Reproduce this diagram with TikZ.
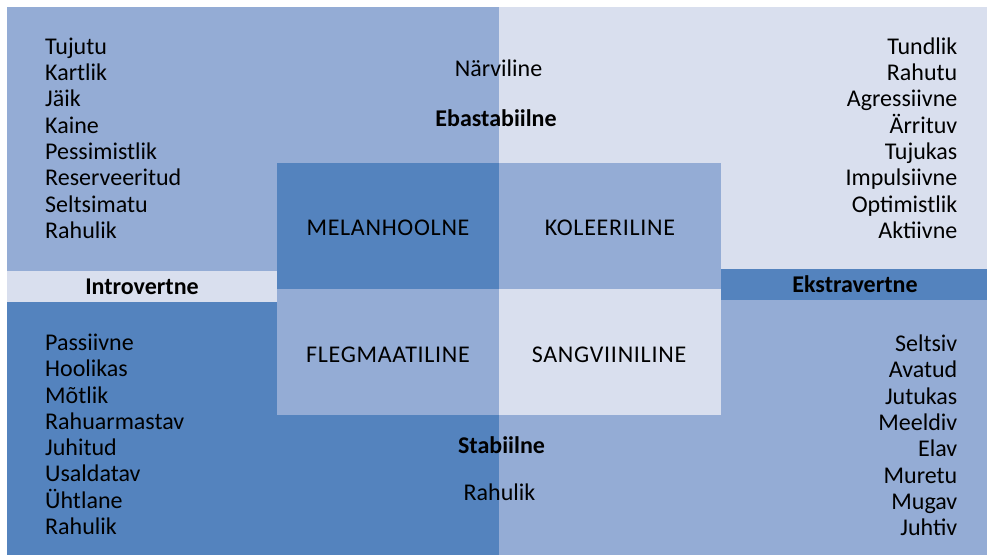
\documentclass[tikz,border=0pt]{standalone}
\usepackage{fontspec}
\setmainfont{Carlito}
\definecolor{tdark}{RGB}{84,131,190}
\definecolor{tmid}{RGB}{148,172,213}
\definecolor{tlight}{RGB}{217,223,238}
\begin{document}
\begin{tikzpicture}[x=1pt,y=-1pt,
  word/.style={inner sep=0pt,font=\fontsize{24}{26}\selectfont,text=black},
  headword/.style={word,font=\fontsize{24}{26}\selectfont\bfseries},
  typeword/.style={word,font=\fontsize{24}{26}\selectfont\addfontfeature{LetterSpace=3}}]
\useasboundingbox (0,0) rectangle (987,555);

% quadrants
\fill[tmid]   (7,7)     rectangle (499,271);
\fill[tlight] (499,7)   rectangle (987,269);
\fill[tdark]  (7,302)   rectangle (499,555);
\fill[tmid]   (499,300) rectangle (987,555);

% axis bands
\fill[tlight] (7,271)   rectangle (277,302);
\fill[tdark]  (721,269) rectangle (987,300);

% temperament boxes
\fill[tdark]  (277,163) rectangle (499,289);
\fill[tmid]   (499,163) rectangle (721,289);
\fill[tmid]   (277,289) rectangle (499,415);
\fill[tlight] (499,289) rectangle (721,415);

\node[typeword,anchor=base] (mel)  at (388,235)   {MELANHOOLNE};
\node[typeword,anchor=base] (kol)  at (610,235)   {KOLEERILINE};
\node[typeword,anchor=base] (fleg) at (388,362.3) {FLEGMAATILINE};
\node[typeword,anchor=base] (sang) at (609,362.3) {SANGVIINILINE};

% axis labels
\node[word,anchor=base]     (narv)  at (498.5,76.7) {Närviline};
\node[headword,anchor=base] (ebast) at (496,126)    {Ebastabiilne};
\node[headword,anchor=base] (stab)  at (501.5,453.3){Stabiilne};
\node[word,anchor=base]     (rahul) at (499.5,500)  {Rahulik};
\node[headword,anchor=base] (intro) at (142,294)    {Introvertne};
\node[headword,anchor=base] (ekstr) at (855,292.7)  {Ekstravertne};

% trait lists
\foreach \w [count=\i] in {Tujutu,Kartlik,Jäik,Kaine,Pessimistlik,Reserveeritud,Seltsimatu,Rahulik}
  \node[word,anchor=base west] (tl-\i) at (45,54.3+26.29*\i-26.29) {\w};
\foreach \w [count=\i] in {Passiivne,Hoolikas,Mõtlik,Rahuarmastav,Juhitud,Usaldatav,Ühtlane,Rahulik}
  \node[word,anchor=base west] (bl-\i) at (45,350.5+26.29*\i-26.29) {\w};
\foreach \w [count=\i] in {Tundlik,Rahutu,Agressiivne,Ärrituv,Tujukas,Impulsiivne,Optimistlik,Aktiivne}
  \node[word,anchor=base east] (tr-\i) at (957.5,54.3+26.29*\i-26.29) {\w};
\foreach \w [count=\i] in {Seltsiv,Avatud,Jutukas,Meeldiv,Elav,Muretu,Mugav,Juhtiv}
  \node[word,anchor=base east] (br-\i) at (957.5,351.5+26.3*\i-26.3) {\w};
\end{tikzpicture}
\end{document}
